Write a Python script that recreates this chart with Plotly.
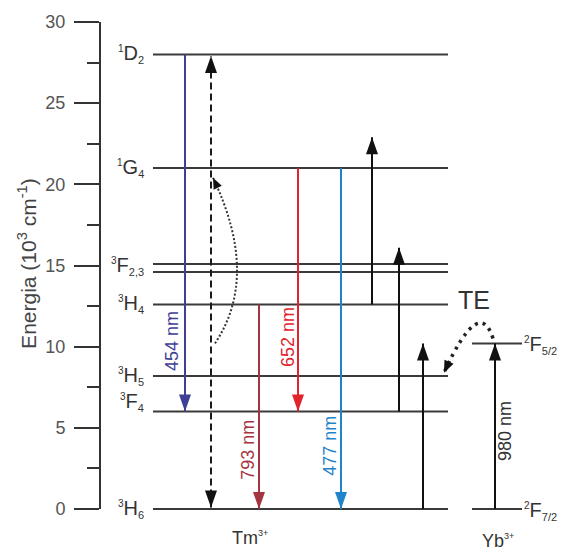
import math
import plotly.graph_objects as go

# ---------------- data (energies in 10^3 cm^-1) ----------------
def lvl(sup, letter, sub):
    return (f"<sup><span style='font-size:10px'>{sup}</span></sup>{letter}"
            f"<sub><span style='font-size:11px'>{sub}</span></sub>")


tm_level_labels = [lvl("1", "D", "2"), lvl("1", "G", "4"), lvl("3", "F", "2,3"), None,
                   lvl("3", "H", "4"), lvl("3", "H", "5"), lvl("3", "F", "4"), lvl("3", "H", "6")]
tm_level_energy = [28.0, 21.0, 15.1, 14.6, 12.6, 8.2, 6.0, 0.0]
tm_label_energy = [28.0, 21.0, 15.0, None, 12.6, 8.2, 6.6, 0.0]

yb_level_labels = [lvl("2", "F", "5/2"), lvl("2", "F", "7/2")]
yb_level_energy = [10.2, 0.0]

emission_labels = ["454 nm", "652 nm", "793 nm", "477 nm"]
emission_from = [28.0, 21.0, 12.6, 21.0]
emission_to = [6.0, 6.0, 0.0, 0.0]
emission_colors = ["#3f3f96", "#e3222c", "#a53441", "#1f84cc"]

excitation_from = [12.6, 6.0, 0.0]
excitation_to = [22.9, 16.1, 10.2]

yb_pump_label = "980 nm"
yb_pump_from = 0.0
yb_pump_to = 10.2

dashed_low, dashed_high = 0.1, 27.9

ytick_vals = [0, 5, 10, 15, 20, 25, 30]
ytick_minor = [2.5, 7.5, 12.5, 17.5, 22.5, 27.5]

# ---------------- layout constants (pixels) ----------------
W, H = 564, 556
ML = 100
PX_PER_UNIT = (509 - 22) / 30.0
YMIN = -(H - 509) / PX_PER_UNIT
YMAX = 30 + 22 / PX_PER_UNIT

TM_X0, TM_X1 = 153, 448
YB_X0, YB_X1 = 472, 522
emission_x = [185, 298, 259, 341]
emission_label_x = [172, 288, 248, 330]
emission_label_y = [10.35, 10.6, 3.65, 3.9]
excitation_x = [372, 399, 423]
yb_pump_x = 495
dashed_x = 211

FONT = "Arial, Liberation Sans, sans-serif"
DARK = "#333333"

fig = go.Figure()
shapes = []
annotations = []


def head(x, y, dx, dy, color, L=17, Wd=12):
    n = math.hypot(dx, dy)
    ux, uy = dx / n, dy / n
    px, py = -uy, ux
    bx, by = -L * ux, -L * uy
    p1 = (bx + Wd / 2 * px, by + Wd / 2 * py)
    p2 = (bx - Wd / 2 * px, by - Wd / 2 * py)
    path = f"M0,0 L{p1[0]:.2f},{p1[1]:.2f} L{p2[0]:.2f},{p2[1]:.2f} Z"
    return dict(type="path", xref="x", yref="y", xsizemode="pixel", ysizemode="pixel",
                xanchor=x, yanchor=y, path=path, fillcolor=color, line=dict(width=0), layer="above")


def vline(x, y0, y1, color, dash="solid", width=2):
    fig.add_trace(go.Scatter(x=[x, x], y=[y0, y1], mode="lines",
                             line=dict(color=color, width=width, dash=dash),
                             hoverinfo="skip", showlegend=False))


# level lines
for e in tm_level_energy:
    fig.add_trace(go.Scatter(x=[TM_X0, TM_X1], y=[e, e], mode="lines",
                             line=dict(color="#3a3a3a", width=2), hoverinfo="skip", showlegend=False))
for e in yb_level_energy:
    fig.add_trace(go.Scatter(x=[YB_X0, YB_X1], y=[e, e], mode="lines",
                             line=dict(color="#3a3a3a", width=2), hoverinfo="skip", showlegend=False))

# level labels
for lab, e in zip(tm_level_labels, tm_label_energy):
    if lab is None:
        continue
    annotations.append(dict(x=146, y=e, xref="x", yref="y", text=lab, showarrow=False,
                            xanchor="right", yanchor="middle",
                            font=dict(family=FONT, size=20, color=DARK)))
for lab, e in zip(yb_level_labels, yb_level_energy):
    annotations.append(dict(x=522, y=e - 0.1, xref="x", yref="y", text=lab, showarrow=False,
                            xanchor="left", yanchor="middle",
                            font=dict(family=FONT, size=20, color=DARK)))

# emission arrows
for x, y0, y1, c, lab, lx, ly in zip(emission_x, emission_from, emission_to, emission_colors,
                                      emission_labels, emission_label_x, emission_label_y):
    vline(x, y0, y1, c)
    shapes.append(head(x, y1, 0, -1, c))
    annotations.append(dict(x=lx, y=ly, xref="x", yref="y", text=lab, showarrow=False,
                            xanchor="center", yanchor="middle",
                            textangle=-90, font=dict(family=FONT, size=18, color=c)))

# excitation arrows
for x, y0, y1 in zip(excitation_x, excitation_from, excitation_to):
    vline(x, y0, y1, "#111111")
    shapes.append(head(x, y1, 0, 1, "#111111"))

# Yb pump
vline(yb_pump_x, yb_pump_from, yb_pump_to, "#111111")
shapes.append(head(yb_pump_x, yb_pump_to, 0, 1, "#111111"))
annotations.append(dict(x=505, y=4.8, xref="x", yref="y", text=yb_pump_label, showarrow=False,
                        xanchor="center", yanchor="middle",
                        textangle=-90, font=dict(family=FONT, size=18, color=DARK)))

# dashed double arrow
vline(dashed_x, dashed_low, dashed_high, "#1a1a1a", dash="7px,4px")
shapes.append(head(dashed_x, dashed_high, 0, 1, "#111111"))
shapes.append(head(dashed_x, dashed_low, 0, -1, "#111111"))

# Tm dotted curved arrow (cross relaxation)
shapes.append(dict(type="path", xref="x", yref="y", path="M 215,10.2 Q 260,14.35 213,20.4",
                   line=dict(color=DARK, width=2, dash="2px,2px"), layer="above"))
shapes.append(head(213, 20.4, -44, 93, "#111111", L=11, Wd=9))

# Yb -> Tm energy transfer dotted arc
shapes.append(dict(type="path", xref="x", yref="y", path="M 493,10.5 Q 479.5,13.18 444,8.4",
                   line=dict(color="#222222", width=3.5, dash="3px,5px"), layer="above"))
shapes.append(head(444, 8.4, -35.5, -77, "#111111", L=12, Wd=10))

# y axis line
shapes.append(dict(type="line", xref="paper", yref="y", x0=0, x1=0, y0=0, y1=30,
                   line=dict(color=DARK, width=2)))

# other texts
annotations.append(dict(x=474, y=12.85, xref="x", yref="y", text="TE", showarrow=False,
                        font=dict(family=FONT, size=25, color=DARK)))
annotations.append(dict(x=250, y=-1.8, xref="x", yref="y",
                        text="Tm<sup><span style='font-size:9px'>3+</span></sup>", showarrow=False,
                        font=dict(family=FONT, size=18, color=DARK)))
annotations.append(dict(x=498, y=-1.95, xref="x", yref="y",
                        text="Yb<sup><span style='font-size:9px'>3+</span></sup>", showarrow=False,
                        font=dict(family=FONT, size=18, color=DARK)))
annotations.append(dict(x=(27 - ML) / (W - ML), y=15.1, xref="paper", yref="y",
                        xanchor="center", yanchor="middle",
                        text="Energia (10<sup>3</sup> cm<sup>-1</sup>)", showarrow=False,
                        textangle=-90, font=dict(family=FONT, size=21, color="#444444")))

fig.update_layout(
    width=W, height=H,
    margin=dict(l=ML, r=0, t=0, b=0),
    paper_bgcolor="white", plot_bgcolor="white",
    shapes=shapes, annotations=annotations,
    xaxis=dict(range=[ML, W], visible=False),
    yaxis=dict(range=[YMIN, YMAX], showgrid=False, zeroline=False, showline=False,
               tickmode="array", tickvals=ytick_vals, ticktext=[str(v) for v in ytick_vals],
               ticks="outside", ticklen=25, tickwidth=2, tickcolor=DARK,
               ticklabelstandoff=5,
               tickfont=dict(family=FONT, size=18, color="#555555"),
               minor=dict(tickmode="array", tickvals=ytick_minor, ticks="outside",
                          ticklen=12, tickwidth=2, tickcolor=DARK, showgrid=False)),
)

fig.write_html("out.html")
